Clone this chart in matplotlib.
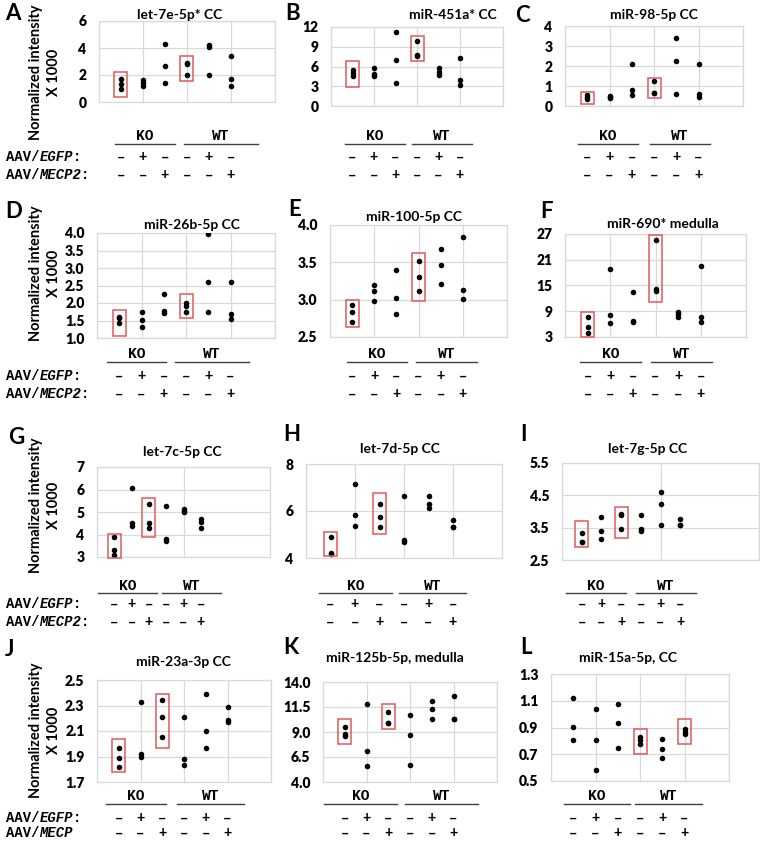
import matplotlib
matplotlib.use('Agg')
import matplotlib.pyplot as plt
from matplotlib.patches import Rectangle
from matplotlib.transforms import blended_transform_factory

W, H = 760, 844
SANS = ['Lato', 'DejaVu Sans']
MONO = ['Liberation Mono', 'DejaVu Sans Mono']

# ---------------- data ----------------
groups = [1, 2, 3, 4, 5, 6]
egfp_signs = ['–', '+', '–', '–', '+', '–']
mecp2_signs = ['–', '–', '+', '–', '–', '+']

titles = ['let-7e-5p* CC', 'miR-451a* CC', 'miR-98-5p CC',
          'miR-26b-5p CC', 'miR-100-5p CC', 'miR-690* medulla',
          'let-7c-5p CC', 'let-7d-5p CC', 'let-7g-5p CC',
          'miR-23a-3p CC', 'miR-125b-5p, medulla', 'miR-15a-5p, CC']
letters = ['A', 'B', 'C', 'D', 'E', 'F', 'G', 'H', 'I', 'J', 'K', 'L']

A_vals = [[1.7, 1.3, 1.0], [1.65, 1.4, 1.2], [4.27, 2.68, 1.44],
          [2.9, 2.78, 1.99], [4.2, 4.1, 2.0], [3.4, 1.69, 1.17]]
B_vals = [[5.4, 5.0, 4.6], [5.7, 4.9, 4.5], [11.3, 7.0, 3.5],
          [9.9, 7.8, 7.6], [5.7, 5.2, 4.7], [7.3, 4.0, 3.2]]
C_vals = [[0.53, 0.45, 0.35], [0.5, 0.45, 0.4], [2.12, 0.78, 0.55],
          [1.25, 0.65, 0.65], [3.42, 2.25, 0.58], [2.12, 0.58, 0.47]]
D_vals = [[1.61, 1.56, 1.42], [1.75, 1.51, 1.32], [2.26, 1.77, 1.71],
          [2.0, 1.92, 1.75], [3.98, 2.6, 1.75], [2.6, 1.69, 1.54]]
E_vals = [[2.93, 2.84, 2.70], [3.19, 3.12, 2.98], [3.40, 3.02, 2.81],
          [3.52, 3.31, 3.11], [3.68, 3.46, 3.21], [3.84, 3.13, 3.01]]
F_vals = [[7.7, 5.4, 4.0], [18.8, 8.1, 6.3], [13.4, 6.75, 6.5],
          [25.5, 14.2, 13.8], [8.9, 8.3, 7.7], [19.6, 7.7, 6.4]]
G_vals = [[3.9, 3.33, 3.07], [6.06, 4.49, 4.37], [5.36, 4.52, 4.27],
          [5.27, 3.78, 3.7], [5.13, 5.06, 4.99], [4.67, 4.57, 4.27]]
H_vals = [[4.89, 4.18, 4.2], [7.15, 5.82, 5.35], [6.3, 5.73, 5.3],
          [6.65, 4.78, 4.68], [6.62, 6.3, 6.13], [5.63, 5.32, 5.32]]
I_vals = [[3.33, 3.07, 3.07], [3.84, 3.4, 3.15], [3.93, 3.88, 3.45],
          [3.88, 3.46, 3.41], [4.59, 4.23, 3.57], [3.77, 3.57, 3.57]]
J_vals = [[1.97, 1.89, 1.82], [2.33, 1.92, 1.90], [2.34, 2.21, 2.05],
          [2.21, 1.88, 1.83], [2.39, 2.10, 1.97], [2.29, 2.19, 2.17]]
K_vals = [[9.5, 8.8, 8.65], [11.8, 7.15, 5.56], [11.0, 9.93, 9.93],
          [10.75, 8.7, 5.72], [12.08, 11.28, 10.32], [12.6, 10.3, 10.3]]
L_vals = [[1.124, 0.906, 0.806], [1.04, 0.806, 0.58], [1.074, 0.936, 0.75],
          [0.826, 0.806, 0.78], [0.811, 0.738, 0.673], [0.889, 0.868, 0.848]]

# highlighted groups: (group, low, high)
A_boxes = [(1, 0.37, 2.23), (4, 1.56, 3.4)]
B_boxes = [(1, 2.85, 6.76), (4, 6.76, 10.6)]
C_boxes = [(1, 0.12, 0.7), (4, 0.42, 1.42)]
D_boxes = [(1, 1.05, 1.8), (4, 1.56, 2.26)]
E_boxes = [(1, 2.64, 2.99), (4, 2.98, 3.63)]
F_boxes = [(1, 3.0, 8.86), (4, 11.2, 26.8)]
G_boxes = [(1, 2.97, 4.04), (3, 3.9, 5.64)]
H_boxes = [(1, 4.07, 5.09), (3, 5.02, 6.77)]
I_boxes = [(1, 2.91, 3.71), (3, 3.17, 4.15)]
J_boxes = [(1, 1.78, 2.04), (3, 1.97, 2.39)]
K_boxes = [(1, 7.8, 10.26), (3, 9.3, 11.78)]
L_boxes = [(4, 0.70, 0.889), (6, 0.773, 0.961)]

# y axis: (min, max, step, decimals)
y_axes = [(0, 6, 2, 0), (0, 12, 3, 0), (0, 4, 1, 0),
          (1.0, 4.0, 0.5, 1), (2.5, 4.0, 0.5, 1), (3, 27, 6, 0),
          (3, 7, 1, 0), (4, 8, 2, 0), (2.5, 5.5, 1.0, 1),
          (1.7, 2.5, 0.2, 1), (4.0, 14.0, 2.5, 1), (0.5, 1.3, 0.2, 1)]
# x axis: (max, grid step)
x_axes = [(8, 2)] * 6 + [(10, 5), (8, 2), (10, 5)] + [(8, 2)] * 3

all_vals = [A_vals, B_vals, C_vals, D_vals, E_vals, F_vals,
            G_vals, H_vals, I_vals, J_vals, K_vals, L_vals]
all_boxes = [A_boxes, B_boxes, C_boxes, D_boxes, E_boxes, F_boxes,
             G_boxes, H_boxes, I_boxes, J_boxes, K_boxes, L_boxes]

# ---------------- layout (pixels) ----------------
rects = [(99, 21, 275, 102), (331, 27, 503, 106), (565, 26, 743, 106),
         (97, 233, 275, 338), (330, 225, 507, 337), (565, 234, 746, 337),
         (97, 467, 270, 557), (306, 464, 502, 558), (562, 463, 759, 560),
         (97, 680, 271, 782), (323, 682, 497, 782), (551, 674, 729, 781)]
title_pos = [(180, 15), (453, 15), (654, 15), (192, 225), (414, 217), (663, 224),
             (182, 452), (400, 449), (648, 449), (183, 662), (395, 658), (628, 658)]
letter_pos = [(5, 14), (285, 14), (515, 15), (5, 212), (288, 210), (540, 212),
              (8, 437), (283, 435), (520, 435), (5, 649), (283, 647), (520, 648)]
lines_px = [(115, 175, 184, 258), (345, 405, 412, 472), (578, 638, 650, 710),
            (107, 166, 175, 249), (347, 407, 416, 477), (580, 641, 651, 712),
            (98, 157, 162, 221), (319, 392, 399, 466), (566, 626, 636, 696),
            (106, 166, 177, 244), (324, 397, 405, 478), (564, 630, 635, 702)]
row_y = [(144, 157, 175)] * 3 + [(362, 376, 394)] * 3 + \
        [(593, 604, 622)] * 3 + [(804, 818, 833)] * 3
ylabel_y = [72, 273, 505, 730]

fig = plt.figure(figsize=(W / 100, H / 100), dpi=100)
fig.patch.set_facecolor('white')


def fx(px):
    return px / W


def fy(py):
    return 1 - py / H


grid_c = '#d9d9d9'
box_c = '#e05a5a'

for i in range(12):
    l, t, r, b = rects[i]
    ax = fig.add_axes([fx(l), fy(b), fx(r - l), (b - t) / H])
    xmax, xstep = x_axes[i]
    ymin, ymax, ystep, dec = y_axes[i]
    ax.set_xlim(0, xmax)
    ax.set_ylim(ymin, ymax)
    n = int(round((ymax - ymin) / ystep))
    yt = [ymin + k * ystep for k in range(n + 1)]
    ax.set_yticks(yt)
    ax.set_yticklabels([f'{v:.{dec}f}' for v in yt])
    ax.set_xticks([k * xstep for k in range(int(xmax / xstep) + 1)])
    ax.set_xticklabels([])
    ax.grid(True, color=grid_c, lw=0.9)
    ax.set_axisbelow(True)
    for sp in ax.spines.values():
        sp.set_color(grid_c)
        sp.set_linewidth(0.9)
    ax.tick_params(length=0, pad=9)
    for lab in ax.get_yticklabels():
        lab.set_fontfamily(SANS)
        lab.set_fontweight('heavy')
        lab.set_fontsize(10)

    for g, vals in zip(groups, all_vals[i]):
        ax.scatter([g] * len(vals), vals, s=16, color='black', zorder=3,
                   linewidths=0)
    px_per_unit = (r - l) / xmax
    hw = 6.5 / px_per_unit
    for g, lo, hi in all_boxes[i]:
        ax.add_patch(Rectangle((g - hw, lo), 2 * hw, hi - lo, fill=False,
                               edgecolor=box_c, lw=1.1, zorder=4,
                               clip_on=False))

    # title & letter
    tx, ty = title_pos[i]
    fig.text(fx(tx), fy(ty), titles[i], ha='center', va='center',
             family=SANS, fontweight='bold', fontsize=10)
    lx, ly = letter_pos[i]
    fig.text(fx(lx), fy(ly), letters[i], ha='left', va='center',
             family=SANS, fontweight='bold', fontsize=16)

    # condition rows
    ly0, ly1, ly2 = row_y[i]
    k0, k1, w0, w1 = lines_px[i]
    fig.add_artist(plt.Line2D([fx(k0), fx(k1)], [fy(ly0), fy(ly0)],
                              color='#404040', lw=1.0))
    fig.add_artist(plt.Line2D([fx(w0), fx(w1)], [fy(ly0), fy(ly0)],
                              color='#404040', lw=1.0))
    fig.text(fx((k0 + k1) / 2), fy(ly0 - 0.5), 'KO', ha='center', va='bottom',
             family=MONO, fontweight='bold', fontsize=10.5)
    fig.text(fx((w0 + w1) / 2), fy(ly0 - 0.5), 'WT', ha='center', va='bottom',
             family=MONO, fontweight='bold', fontsize=10.5)
    trans = blended_transform_factory(ax.transData, fig.transFigure)
    for g, s1, s2 in zip(groups, egfp_signs, mecp2_signs):
        fig.text(g, fy(ly1), s1, transform=trans, ha='center', va='center',
                 family=MONO, fontweight='bold', fontsize=10)
        fig.text(g, fy(ly2), s2, transform=trans, ha='center', va='center',
                 family=MONO, fontweight='bold', fontsize=10)

    # left-side labels
    if i % 3 == 0:
        row = i // 3
        cw = 10 * 100 / 72 * 0.6
        x0 = 6
        gene2 = 'MECP' if i == 9 else 'MECP2'
        tail2 = '' if i == 9 else ':'
        for yy, gene, tail in [(ly1, 'EGFP', ':'), (ly2, gene2, tail2)]:
            fig.text(fx(x0), fy(yy), 'AAV/', ha='left', va='center',
                     family=MONO, fontweight='bold', fontsize=10)
            fig.text(fx(x0 + 4 * cw), fy(yy), gene, ha='left', va='center',
                     family=MONO, fontweight='bold', style='italic',
                     fontsize=10)
            if tail:
                fig.text(fx(x0 + (4 + len(gene)) * cw), fy(yy), tail,
                         ha='left', va='center', family=MONO,
                         fontweight='bold', fontsize=10)
        fig.text(fx(45), fy(ylabel_y[row]), 'Normalized intensity\nX 1000',
                 rotation=90, ha='center', va='center', multialignment='center',
                 family=SANS, fontweight='bold', fontsize=10.5, linespacing=1.3)

fig.savefig('out.png', dpi=100, facecolor='white')
